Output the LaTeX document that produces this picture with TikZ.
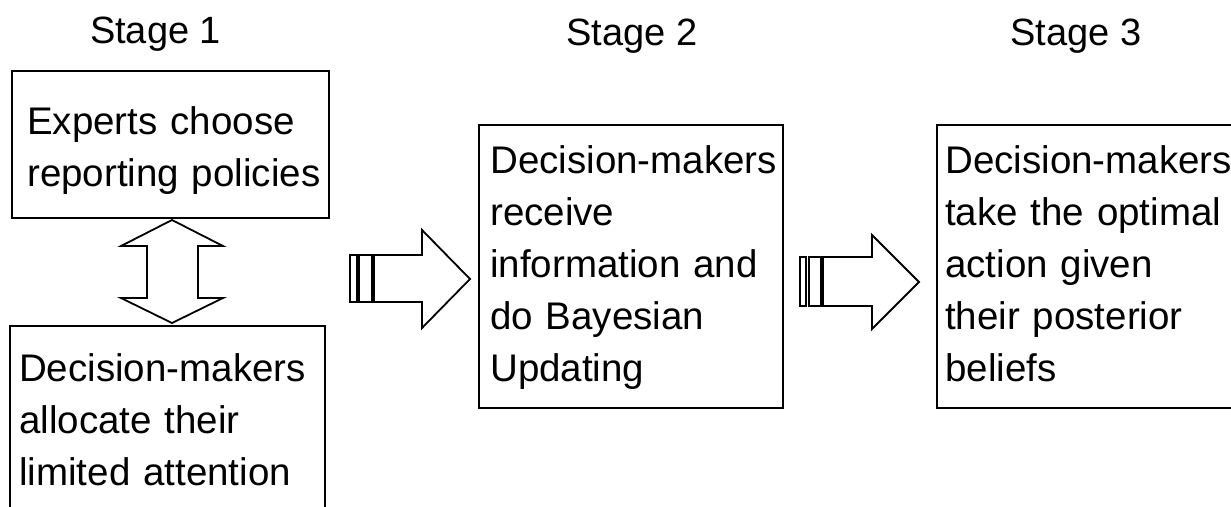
\documentclass[tikz,border=0pt]{standalone}
\usepackage{fontspec}
\setmainfont{Liberation Sans}
\begin{document}
\begin{tikzpicture}[x=1pt,y=-1pt,
  box/.style={draw=black, line width=1.8pt, rectangle, inner sep=0pt},
  txt/.style={anchor=base west, inner sep=0pt, text width=300pt, align=left,
    font=\fontsize{38.5}{52}\selectfont},
  head/.style={anchor=base, inner sep=0pt, font=\fontsize{38}{46}\selectfont},
  blockarrow/.style={draw=black, line width=1.8pt, line join=miter, fill=white}]
\useasboundingbox (0,0) rectangle (1231,506);
\clip (0,0) rectangle (1231,506);

% headings
\node[head] (h1) at (155.5,43) {Stage 1};
\node[head] (h2) at (632,45) {Stage 2};
\node[head] (h3) at (1076,45) {Stage 3};

% boxes
\node[box, minimum width=317pt, minimum height=147pt] (b1) at (170.5,144.5) {};
\node[box, minimum width=315pt, minimum height=240pt] (b2) at (167.5,446) {};
\node[box, minimum width=304pt, minimum height=283pt] (b3) at (631,266.5) {};
\node[box, minimum width=320pt, minimum height=283pt] (b4) at (1097,266.5) {};

% texts
\node[txt] (t1) at (27,134) {Experts choose\\reporting policies};
\node[txt] (t2) at (19,381) {Decision-makers\\allocate their\\limited attention};
\node[txt] (t3) at (490,173) {Decision-makers\\receive\\information and\\do Bayesian\\Updating};
\node[txt] (t4) at (945,173) {Decision-makers\\take the optimal\\action given\\their posterior\\beliefs};

% double arrow between stage-1 boxes
\draw[blockarrow] (172,220) -- (223,246) -- (198,246) -- (198,298) -- (223,298)
  -- (172,323) -- (121,298) -- (147,298) -- (147,246) -- (121,246) -- cycle;

% striped arrow 1
\draw[blockarrow] (350,255) rectangle (357,302);
\draw[blockarrow] (359,255) rectangle (372,302);
\draw[blockarrow] (374,255) -- (422,255) -- (422,230) -- (470,279) -- (422,328)
  -- (422,302) -- (374,302) -- cycle;

% striped arrow 2
\draw[blockarrow] (800,257) rectangle (806,306);
\draw[blockarrow] (809,257) rectangle (821,306);
\draw[blockarrow] (823,257) -- (872,257) -- (872,235) -- (919,282) -- (872,329)
  -- (872,306) -- (823,306) -- cycle;
\end{tikzpicture}
\end{document}
